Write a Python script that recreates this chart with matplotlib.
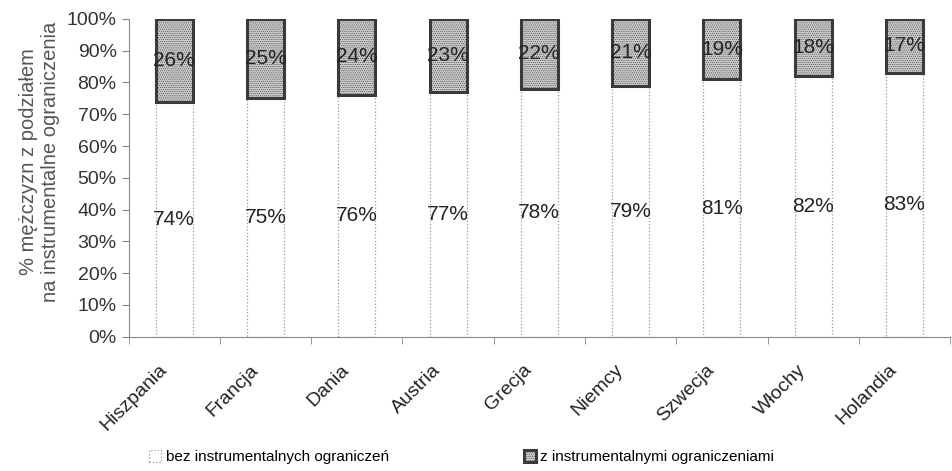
import numpy as np
import matplotlib.pyplot as plt
import matplotlib.transforms as mtransforms

plt.rcParams['font.family'] = ['Liberation Sans', 'DejaVu Sans']

countries = ['Hiszpania', 'Francja', 'Dania', 'Austria', 'Grecja',
             'Niemcy', 'Szwecja', 'Włochy', 'Holandia']
bez = np.array([74, 75, 76, 77, 78, 79, 81, 82, 83])
z_ogr = np.array([26, 25, 24, 23, 22, 21, 19, 18, 17])

fig = plt.figure(figsize=(9.52, 4.71), dpi=100)
ax = fig.add_axes([0.135, 0.285, 0.863, 0.675])

x = np.arange(len(countries))
w = 0.405

b1 = ax.bar(x, bez, w, color='white', edgecolor='#999999', linewidth=0.9,
            linestyle=':', label='bez instrumentalnych ograniczeń')
plt.rcParams['hatch.color'] = '#9a9a9a'
plt.rcParams['hatch.linewidth'] = 0.4
b2 = ax.bar(x, z_ogr, w, bottom=bez, color='#cdcdcd', edgecolor='#3a3a3a',
            linewidth=2.2, hatch='........',
            label='z instrumentalnymi ograniczeniami')

for i in range(len(x)):
    ax.text(x[i], bez[i] / 2, f'{bez[i]}%', ha='center', va='center',
            fontsize=15, color='#222222')
    ax.text(x[i], bez[i] + z_ogr[i] / 2, f'{z_ogr[i]}%', ha='center',
            va='center', fontsize=15, color='#222222')

ax.set_xlim(-0.5, len(x) - 0.5)
ax.set_ylim(0, 100)
ax.set_yticks(np.arange(0, 101, 10))
ax.set_yticklabels([f'{v}%' for v in range(0, 101, 10)], fontsize=14,
                   color='#333333')
ax.set_xticks(x)
ax.set_xticklabels(countries, rotation=45, ha='right', va='center',
                   rotation_mode='anchor', fontsize=14, color='#222222')
ax.tick_params(axis='x', length=0, pad=22)
# przesunięcie etykiet krajów trochę w lewo
offset = mtransforms.ScaledTranslation(-0.1, 0, fig.dpi_scale_trans)
for lbl in ax.get_xticklabels():
    lbl.set_transform(lbl.get_transform() + offset)
ax.set_xticks(np.arange(-0.5, len(x), 1), minor=True)
ax.tick_params(axis='x', which='minor', length=5, color='#888888')
ax.tick_params(axis='y', length=5, color='#888888')

for s in ['top', 'right']:
    ax.spines[s].set_visible(False)
ax.spines['left'].set_color('#888888')
ax.spines['bottom'].set_color('#888888')

ax.set_ylabel('% mężczyzn z podziałem\nna instrumentalne ograniczenia',
              fontsize=14.5, color='#555555', labelpad=5, y=0.55)

fig.legend(handles=[b1, b2], loc='lower center', bbox_to_anchor=(0.485, -0.015),
           ncol=2, frameon=False, fontsize=11, handlelength=0.8,
           handleheight=0.8, handletextpad=0.3, columnspacing=8.8)

fig.savefig('out.png', dpi=100)
